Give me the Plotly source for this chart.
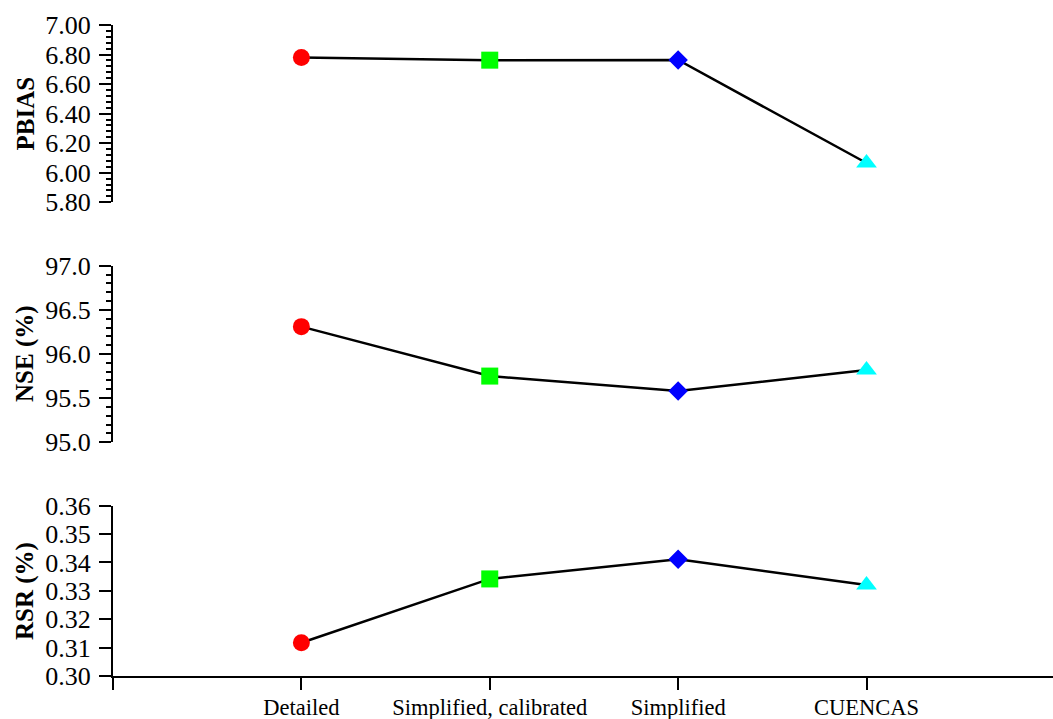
import plotly.graph_objects as go

# Model variants along the shared x axis
models = ["Detailed", "Simplified, calibrated", "Simplified", "CUENCAS"]
x_pos = [1, 2, 3, 4]

# Performance statistics per model
pbias = [6.78, 6.762, 6.763, 6.066]
nse = [96.31, 95.75, 95.58, 95.82]
rsr = [0.3117, 0.3342, 0.3411, 0.3321]

marker_symbols = ["circle", "square", "diamond", "triangle-up"]
marker_colors = ["#FF0000", "#00FF00", "#0000FF", "#00FFFF"]
marker_sizes = [17, 17, 15, 18]

W, H = 1053, 719
LEFT = 113

def dom(top_px, bottom_px):
    return [1 - bottom_px / H, 1 - top_px / H]

font_family = "Liberation Serif, Times New Roman, serif"

fig = go.Figure()
for values, yax in [(pbias, "y"), (nse, "y2"), (rsr, "y3")]:
    fig.add_trace(go.Scatter(
        x=x_pos, y=values, xaxis="x", yaxis=yax, mode="lines+markers",
        line=dict(color="black", width=2.5),
        marker=dict(symbol=marker_symbols, color=marker_colors,
                    size=marker_sizes, opacity=1, line=dict(width=0)),
        opacity=1, showlegend=False, cliponaxis=False,
    ))

common_y = dict(
    anchor="x", showline=True, linecolor="black", linewidth=2,
    ticks="outside", ticklen=12, tickwidth=2, tickcolor="black",
    showgrid=False, zeroline=False, automargin=False,
    tickfont=dict(family=font_family, size=26, color="black"),
    ticklabelstandoff=3,
)

fig.update_layout(
    width=W, height=H,
    margin=dict(l=LEFT, r=0, t=0, b=0),
    paper_bgcolor="white", plot_bgcolor="white",
    xaxis=dict(
        range=[0, 4.99], anchor="y3", showline=True, linecolor="black",
        linewidth=2, ticks="outside", ticklen=12, tickwidth=2,
        tickcolor="black", tickvals=[0, 1, 2, 3, 4],
        ticktext=[""] + models, showgrid=False, zeroline=False,
        automargin=False, ticklabelstandoff=-2,
        tickfont=dict(family=font_family, size=22.5, color="black"),
    ),
    yaxis=dict(domain=dom(25, 202.3), range=[5.80, 7.00], dtick=0.2,
               tick0=5.8, tickformat=".2f",
               minor=dict(dtick=0.04, ticklen=5, tickwidth=2,
                          tickcolor="black", ticks="outside"),
               **common_y),
    yaxis2=dict(domain=dom(265.7, 442.3), range=[95.0, 97.0], dtick=0.5,
                tick0=95, tickformat=".1f",
                minor=dict(dtick=0.1, ticklen=5, tickwidth=2,
                           tickcolor="black", ticks="outside"),
                **common_y),
    yaxis3=dict(domain=dom(505.7, 676), range=[0.30, 0.36], dtick=0.01,
                tick0=0.3, tickformat=".2f", **common_y),
)

# Rotated axis titles
titles = [("PBIAS", 113.5), ("NSE (%)", 354), ("RSR (%)", 591)]
for text, yc in titles:
    fig.add_annotation(
        text="<b>" + text + "</b>", xref="paper", yref="paper",
        x=(25 - LEFT) / (W - LEFT), y=1 - yc / H,
        xanchor="center", yanchor="middle", textangle=-90,
        showarrow=False,
        font=dict(family=font_family, size=25, color="black"),
    )

fig.write_html("out.html")
